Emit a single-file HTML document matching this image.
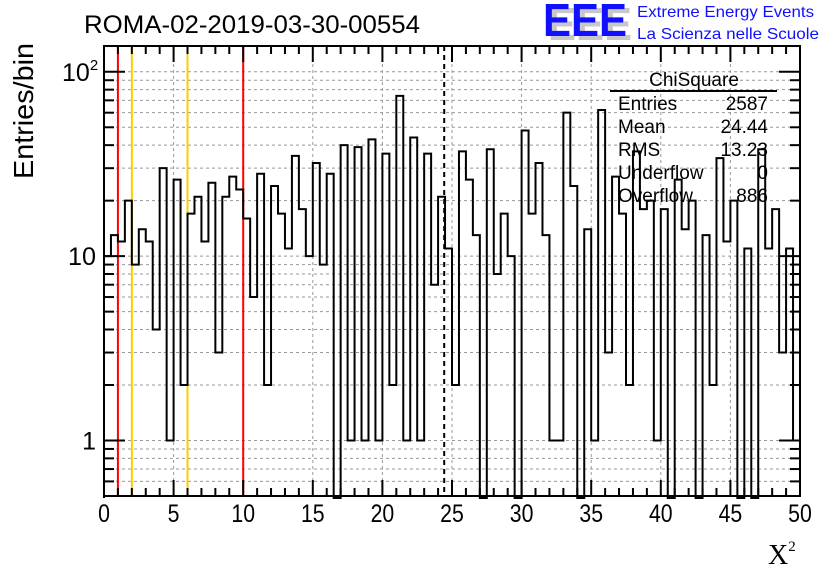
<!DOCTYPE html>
<html><head><meta charset="utf-8"><style>
html,body{margin:0;padding:0;background:#fff;}
svg{display:block;font-family:"Liberation Sans",sans-serif;}
</style></head><body>
<svg id="chart" width="836" height="572" viewBox="0 0 836 572" xmlns="http://www.w3.org/2000/svg">
<rect x="0" y="0" width="836" height="572" fill="#fff"/>
<text x="84" y="33" font-size="25" fill="#000" textLength="336" lengthAdjust="spacingAndGlyphs">ROMA-02-2019-03-30-00554</text>
<g>
<text x="548" y="40" font-size="46" font-weight="bold" fill="#c8c8c8" textLength="84" lengthAdjust="spacingAndGlyphs">EEE</text>
<text x="543" y="36" font-size="46" font-weight="bold" fill="#1010ff" textLength="84" lengthAdjust="spacingAndGlyphs">EEE</text>
<text x="637" y="17" font-size="16" fill="#1010ff" textLength="177" lengthAdjust="spacingAndGlyphs">Extreme Energy Events</text>
<text x="637" y="39" font-size="16" fill="#1010ff" textLength="182" lengthAdjust="spacingAndGlyphs">La Scienza nelle Scuole</text>
</g>
<g id="grid"></g>
<g id="marks"></g>
<g id="axes"></g>
<text transform="translate(33,179) rotate(-90)" font-size="28" fill="#000" textLength="136" lengthAdjust="spacingAndGlyphs">Entries/bin</text>
<text x="768" y="564" font-size="28" font-family="Liberation Serif,serif" fill="#000">X<tspan font-size="15" dy="-13">2</tspan></text>
<g font-size="19" fill="#000">
<text x="694" y="86" text-anchor="middle">ChiSquare</text>
<line x1="610" y1="91" x2="777" y2="91" stroke="#000" stroke-width="2"/>
<text x="618" y="110">Entries</text><text x="768" y="110" text-anchor="end">2587</text>
<text x="618" y="133">Mean</text><text x="768" y="133" text-anchor="end">24.44</text>
<text x="618" y="156">RMS</text><text x="768" y="156" text-anchor="end">13.23</text>
<text x="618" y="179">Underflow</text><text x="768" y="179" text-anchor="end">0</text>
<text x="618" y="202">Overflow</text><text x="768" y="202" text-anchor="end">886</text>
</g>
</svg>
<script>
const binCounts = [10,13,12,20,9,14,12,4,30,1,26,2,17,21,12,25,3,21,27,23,16,6,28,2,24,17,11,35,18,10,32,9,28,0,40,1,39,1,43,1,36,2,74,1,44,1,36,7,21,11,2,37,26,13,0,38,8,17,10,0,48,17,32,13,1,1,60,24,0,14,1,62,3,27,17,2,37,18,20,1,18,0,26,14,20,0,13,2,34,12,20,0,11,0,38,11,18,3,11,1];
const binWidth = [0.5];
const xTicks = [0,5,10,15,20,25,30,35,40,45,50];
const yMajor = [1,10,100];
const cutRed = [1,10];
const cutOrange = [2,6];
const meanValue = [24.44];

const X0=104,X1=800,Y0=496,Y1=46;
const xMin=0,xMax=50,yMinLog=Math.log10(0.5),yMaxLog=Math.log10(138);
const xs=v=>X0+(v-xMin)/(xMax-xMin)*(X1-X0);
const ys=v=>{const l=Math.log10(Math.max(v,0.3));return Y0-(l-yMinLog)/(yMaxLog-yMinLog)*(Y0-Y1);};
const NS='http://www.w3.org/2000/svg';
function mk(tag,attrs,parent){const e=document.createElementNS(NS,tag);for(const k in attrs)e.setAttribute(k,attrs[k]);parent.appendChild(e);return e;}
const grid=document.getElementById('grid'),marks=document.getElementById('marks'),axes=document.getElementById('axes');

xTicks.slice(1,-1).forEach(t=>{
  const g=mk('line',{x1:xs(t),x2:xs(t),y1:Y1,y2:Y0,stroke:'#999','stroke-width':1,'stroke-dasharray':'3,3'},grid);
  
  
});
const minorY=[];
[0.1,1,10,100].forEach(d=>{for(let m=1;m<10;m++){const v=d*m;if(v>=0.5&&v<=138)minorY.push(v);}});
minorY.forEach(v=>{
  const g=mk('line',{x1:X0,x2:X1,y1:ys(v),y2:ys(v),stroke:'#999','stroke-width':1,'stroke-dasharray':'3,3'},grid);
  
  
});

cutRed.forEach(v=>{
  const l=mk('line',{x1:xs(v),x2:xs(v),y1:Y1,y2:Y0,stroke:'#ff0000','stroke-width':2},marks);
  
  
});
cutOrange.forEach(v=>{
  const l=mk('line',{x1:xs(v),x2:xs(v),y1:Y1,y2:Y0,stroke:'#ffcc00','stroke-width':2},marks);
  
  
});

let d='';
const bw=binWidth[0];
binCounts.forEach((c,i)=>{
  const xa=xs(i*bw),xb=xs((i+1)*bw);
  const y=c>0?Math.max(ys(c),Y1):Y0+2;
  if(i===0)d+=`M${xa},${Y0+2}`;
  d+=`L${xa},${y}L${xb},${y}`;
});
const hist=mk('path',{d:d,fill:'none',stroke:'#000','stroke-width':2,'stroke-linejoin':'miter'},marks);



const mean=mk('line',{x1:xs(meanValue[0]),x2:xs(meanValue[0]),y1:Y1,y2:Y0,stroke:'#000','stroke-width':2,'stroke-dasharray':'5,4'},marks);



const fr=mk('rect',{x:X0,y:Y1,width:X1-X0,height:Y0-Y1,fill:'none',stroke:'#000','stroke-width':2},axes);



for(let v=0;v<=50;v+=1){
  const major=(v%5===0),len=major?16:8;
  mk('line',{x1:xs(v),x2:xs(v),y1:Y0,y2:Y0-len,stroke:'#000','stroke-width':2},axes);
  mk('line',{x1:xs(v),x2:xs(v),y1:Y1,y2:Y1+len,stroke:'#000','stroke-width':2},axes);
}
xTicks.forEach(t=>{
  const tx=mk('text',{x:xs(t),y:522,'font-size':25,'text-anchor':'middle',fill:'#000',transform:`translate(${xs(t)},0) scale(0.85,1) translate(${-xs(t)},0)`},axes);
  tx.textContent=String(t);
  
  
});
minorY.forEach(v=>{
  const major=yMajor.includes(v),len=major?21:10;
  mk('line',{x1:X0,x2:X0+len,y1:ys(v),y2:ys(v),stroke:'#000','stroke-width':2},axes);
  mk('line',{x1:X1,x2:X1-len,y1:ys(v),y2:ys(v),stroke:'#000','stroke-width':2},axes);
});
const yl1=mk('text',{x:96,y:ys(1)+9,'font-size':25,'text-anchor':'end',fill:'#000'},axes);
yl1.textContent='1';


const yl10=mk('text',{x:96,y:ys(10)+9,'font-size':25,'text-anchor':'end',fill:'#000',textLength:28,lengthAdjust:'spacingAndGlyphs'},axes);
yl10.textContent='10';


const yl100=mk('text',{x:62,y:ys(100)+9,'font-size':25,fill:'#000'},axes);
yl100.innerHTML='10<tspan font-size="15" dy="-11">2</tspan>';


</script>
</body></html>
